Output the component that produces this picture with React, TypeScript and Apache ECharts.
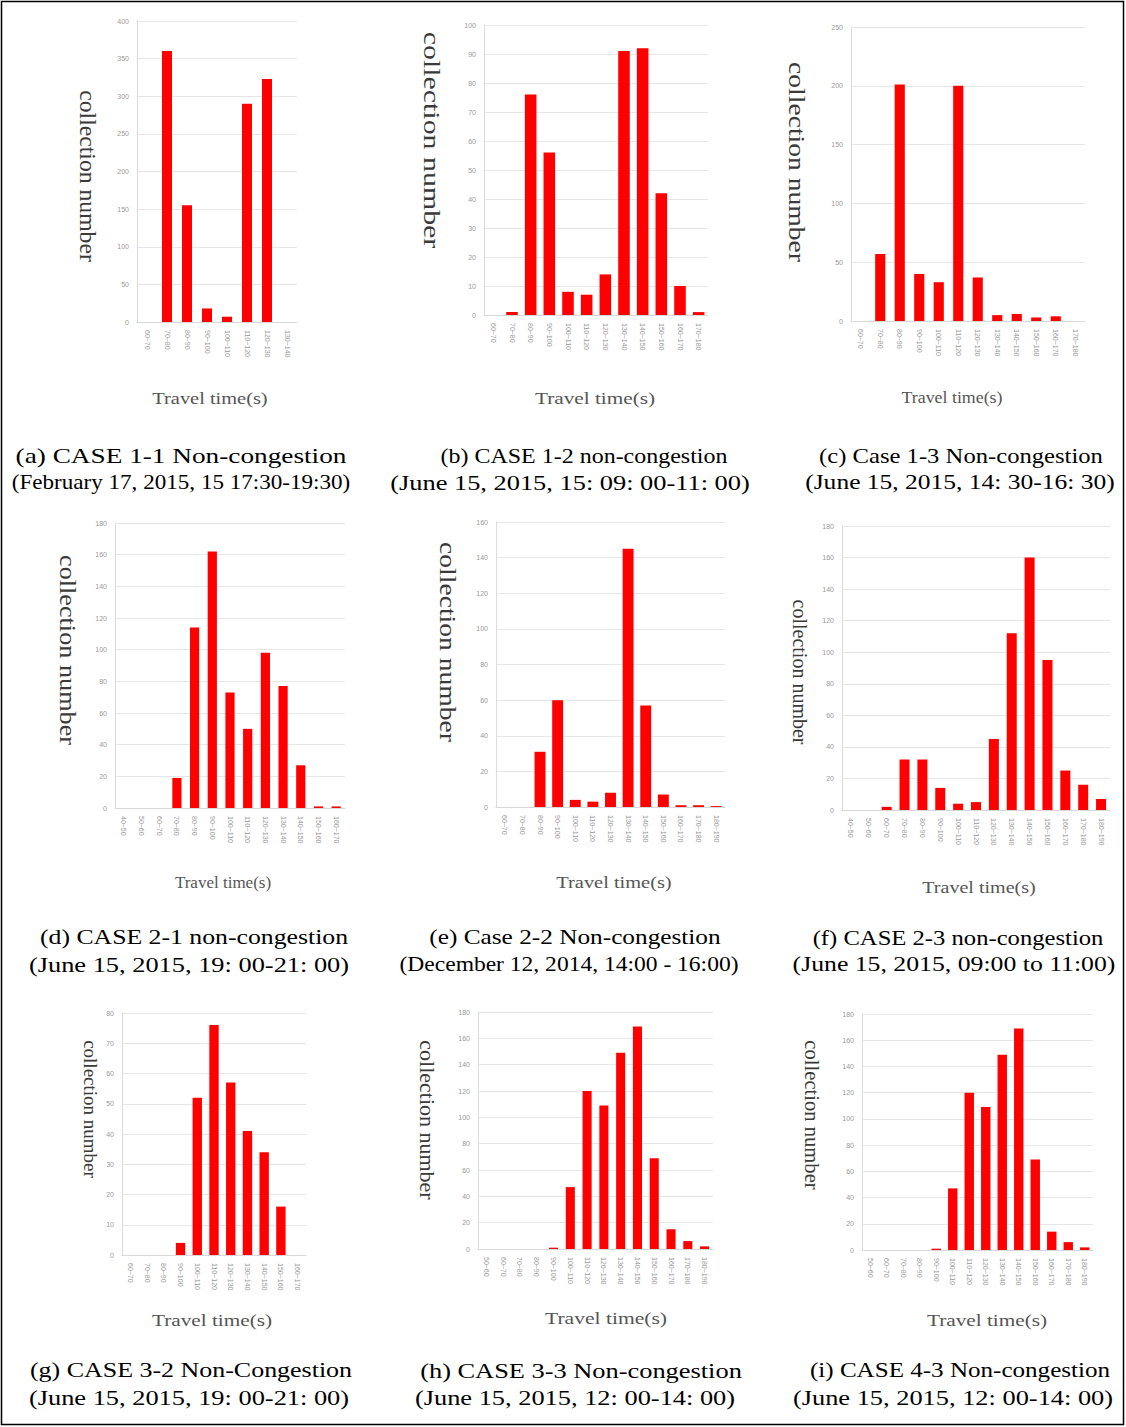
import React, { useEffect, useRef } from "react";
import * as echarts from "echarts";

// Travel-time bins (x categories) for each case
const catsA = ["60~70", "70~80", "80~90", "90~100", "100~110", "110~120", "120~130", "130~140"];
const catsB = ["60~70", "70~80", "80~90", "90~100", "100~110", "110~120", "120~130", "130~140", "140~150", "150~160", "160~170", "170~180"];
const catsC = ["60~70", "70~80", "80~90", "90~100", "100~110", "110~120", "120~130", "130~140", "140~150", "150~160", "160~170", "170~180"];
const catsD = ["40~50", "50~60", "60~70", "70~80", "80~90", "90~100", "100~110", "110~120", "120~130", "130~140", "140~150", "150~160", "160~170"];
const catsE = ["60~70", "70~80", "80~90", "90~100", "100~110", "110~120", "120~130", "130~140", "140~150", "150~160", "160~170", "170~180", "180~190"];
const catsF = ["40~50", "50~60", "60~70", "70~80", "80~90", "90~100", "100~110", "110~120", "120~130", "130~140", "140~150", "150~160", "160~170", "170~180", "180~190"];
const catsG = ["60~70", "70~80", "80~90", "90~100", "100~110", "110~120", "120~130", "130~140", "140~150", "150~160", "160~170"];
const catsH = ["50~60", "60~70", "70~80", "80~90", "90~100", "100~110", "110~120", "120~130", "130~140", "140~150", "150~160", "160~170", "170~180", "180~190"];
const catsI = ["50~60", "60~70", "70~80", "80~90", "90~100", "100~110", "110~120", "120~130", "130~140", "140~150", "150~160", "160~170", "170~180", "180~190"];

// Collection counts per bin
const valsA = [0, 360, 155, 18, 7, 290, 323, 0];
const valsB = [0, 1, 76, 56, 8, 7, 14, 91, 92, 42, 10, 1];
const valsC = [0, 57, 201, 40, 33, 200, 37, 5, 6, 3, 4, 0];
const valsD = [0, 0, 0, 19, 114, 162, 73, 50, 98, 77, 27, 1, 1];
const valsE = [0, 0, 31, 60, 4, 3, 8, 145, 57, 7, 1, 1, 0.5];
const valsF = [0, 0, 2, 32, 32, 14, 4, 5, 45, 112, 160, 95, 25, 16, 7];
const valsG = [0, 0, 0, 4, 52, 76, 57, 41, 34, 16, 0];
const valsH = [0, 0, 0, 0, 1, 47, 120, 109, 149, 169, 69, 15, 6, 2];
const valsI = [0, 0, 0, 0, 1, 47, 120, 109, 149, 169, 69, 14, 6, 2];

// Y-axis scale per panel
const yMax = [400, 100, 250, 180, 160, 180, 80, 180, 180];
const yStep = [50, 10, 50, 20, 20, 20, 10, 20, 20];

// Caption lines
const captionTitles = [
  "(a) CASE 1-1 Non-congestion",
  "(b) CASE 1-2 non-congestion",
  "(c) Case 1-3 Non-congestion",
  "(d) CASE 2-1 non-congestion",
  "(e) Case 2-2 Non-congestion",
  "(f) CASE 2-3 non-congestion",
  "(g) CASE 3-2 Non-Congestion",
  "(h) CASE 3-3 Non-congestion",
  "(i) CASE 4-3 Non-congestion",
];
const captionDates = [
  "(February 17, 2015, 15 17:30-19:30)",
  "(June 15, 2015, 15: 09: 00-11: 00)",
  "(June 15, 2015, 14: 30-16: 30)",
  "(June 15, 2015, 19: 00-21: 00)",
  "(December 12, 2014, 14:00 - 16:00)",
  "(June 15, 2015, 09:00 to 11:00)",
  "(June 15, 2015, 19: 00-21: 00)",
  "(June 15, 2015, 12: 00-14: 00)",
  "(June 15, 2015, 12: 00-14: 00)",
];

const yTitle = "collection number";
const xTitle = "Travel time(s)";

const cats = [catsA, catsB, catsC, catsD, catsE, catsF, catsG, catsH, catsI];
const vals = [valsA, valsB, valsC, valsD, valsE, valsF, valsG, valsH, valsI];

// Plot rectangles: [left, top, right, bottom]
const plotBox = [
  [137, 21, 297, 322],
  [484, 25, 708, 315],
  [851, 27, 1085, 321],
  [115, 523, 345, 808],
  [496, 522, 725, 807],
  [842, 526, 1110, 810],
  [122, 1013, 306, 1255],
  [478, 1012, 713, 1249],
  [862, 1014, 1093, 1250],
];
const barWidths = ["50%", "62%", "52%", "52%", "62%", "56%", "56%", "54%", "57%"];
// y-title: [centre x, centre y, font size, stretch along the text]
const yTitleStyle = [
  [88, 176, 23, 1.03],
  [432, 140, 23, 1.3],
  [797, 162, 23, 1.2],
  [68, 650, 23, 1.14],
  [448, 642, 23, 1.2],
  [800, 672, 20, 1.0],
  [90, 1109, 19, 1.0],
  [427, 1120, 20, 1.1],
  [812, 1115, 20, 1.03],
];
// x-title: [centre x, centre y, horizontal stretch]
const xTitleStyle = [
  [210, 398, 1.2], [595, 398, 1.25], [952, 397, 1.05],
  [223, 882, 1.0], [614, 882, 1.2], [979, 887, 1.18],
  [212, 1320, 1.25], [606, 1318, 1.27], [987, 1320, 1.25],
];
// caption lines: [centre x, stretch] for each line; first-line y per row
const captionLine1 = [
  [181, 1.24], [584, 1.09], [961, 1.12],
  [194, 1.17], [575, 1.15], [958, 1.12],
  [191, 1.18], [581, 1.2], [960, 1.14],
];
const captionLine2 = [
  [181, 1.05], [570, 1.2], [960, 1.16],
  [189, 1.2], [569, 1.07], [954, 1.17],
  [189, 1.2], [575, 1.2], [953, 1.2],
];
const captionY = [455, 455, 455, 937, 937, 937, 1370, 1370, 1370];

const SERIF = "'Liberation Serif', 'Times New Roman', serif";

export default function App() {
  const ref = useRef<HTMLDivElement>(null);

  useEffect(() => {
    if (!ref.current) return;
    const chart = echarts.init(ref.current, undefined, { renderer: "svg" });

    const grid = plotBox.map(([l, t, r, b]) => ({
      left: l,
      top: t,
      width: r - l,
      height: b - t,
      containLabel: false,
    }));

    const xAxis = cats.map((c, i) => ({
      type: "category",
      gridIndex: i,
      data: c,
      axisLine: { lineStyle: { color: "#d8d8d8" } },
      axisTick: { show: false },
      axisLabel: {
        interval: 0,
        rotate: -90,
        fontSize: 7,
        color: "#999",
        margin: 8,
        fontFamily: "Liberation Sans",
      },
      splitLine: { show: false },
    }));

    const yAxis = yMax.map((m, i) => ({
      type: "value",
      gridIndex: i,
      min: 0,
      max: m,
      interval: yStep[i],
      axisLine: { show: true, lineStyle: { color: "#dcdcdc" } },
      axisTick: { show: false },
      axisLabel: { fontSize: 7, color: "#999", margin: 8, fontFamily: "Liberation Sans" },
      splitLine: { lineStyle: { color: "#e6e6e6" } },
    }));

    const series = vals.map((v, i) => ({
      type: "bar",
      xAxisIndex: i,
      yAxisIndex: i,
      data: v,
      barWidth: barWidths[i],
      itemStyle: { color: "#ff0000" },
    }));

    const graphic: any[] = [
      {
        type: "rect",
        shape: { x: 1.5, y: 1.5, width: 1122, height: 1423 },
        style: { fill: "none", stroke: "#000", lineWidth: 1.5 },
        silent: true,
      },
    ];

    yTitleStyle.forEach(([x, y, fs, sx]) => {
      graphic.push({
        type: "text",
        x,
        y,
        rotation: -Math.PI / 2,
        scaleX: sx,
        style: {
          text: yTitle,
          font: `${fs}px ${SERIF}`,
          fill: "#3a3a3a",
          align: "center",
          verticalAlign: "middle",
        },
      });
    });

    xTitleStyle.forEach(([x, y, sx]) => {
      graphic.push({
        type: "text",
        x,
        y,
        scaleX: sx,
        style: {
          text: xTitle,
          font: `17px ${SERIF}`,
          fill: "#555",
          align: "center",
          verticalAlign: "middle",
        },
      });
    });

    captionY.forEach((y, i) => {
      graphic.push({
        type: "text",
        x: captionLine1[i][0],
        y,
        scaleX: captionLine1[i][1],
        style: {
          text: captionTitles[i],
          font: `22px ${SERIF}`,
          fill: "#000",
          align: "center",
          verticalAlign: "middle",
        },
      });
      graphic.push({
        type: "text",
        x: captionLine2[i][0],
        y: y + 27,
        scaleX: captionLine2[i][1],
        style: {
          text: captionDates[i],
          font: `22px ${SERIF}`,
          fill: "#000",
          align: "center",
          verticalAlign: "middle",
        },
      });
    });

    chart.setOption({
      animation: false,
      backgroundColor: "#fff",
      grid,
      xAxis,
      yAxis,
      series,
      graphic,
    } as any);

    return () => chart.dispose();
  }, []);

  return (
    <div
      ref={ref}
      style={{ position: "fixed", left: 0, top: 0, width: 1126, height: 1427, background: "#fff" }}
    />
  );
}
